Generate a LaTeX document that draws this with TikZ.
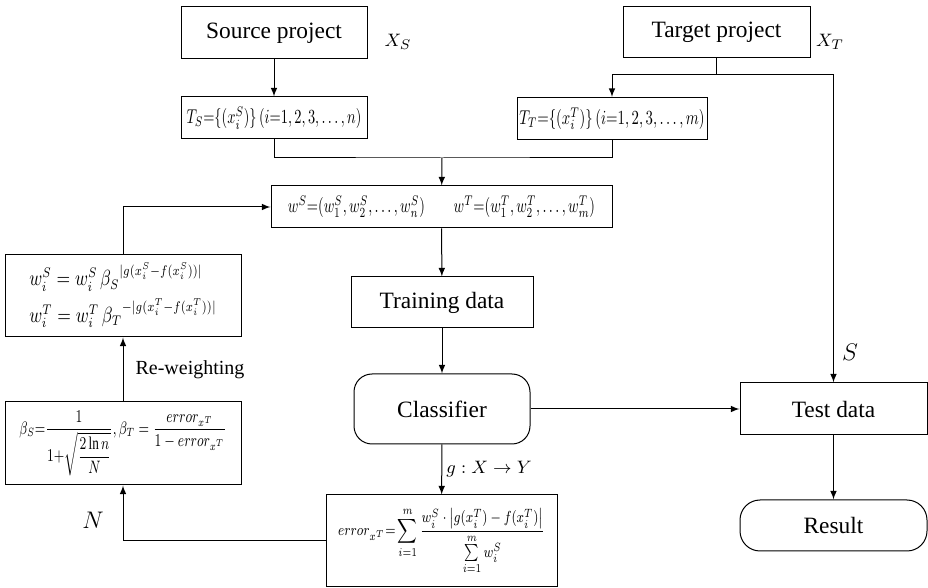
\documentclass[tikz,border=0pt]{standalone}
\usepackage{amsmath}
\usepackage{amssymb}
\usepackage{graphicx}
\usepackage{fontspec}
\setmainfont{Liberation Serif}
\usetikzlibrary{calc}

\newcommand{\squash}[2]{\scalebox{#1}[1]{#2}}

\begin{document}
\begin{tikzpicture}
  [x=0.5pt, y=-0.5pt, >=latex, line width=0.5pt,
   box/.style={draw, inner sep=0pt, font=\fontsize{11.7}{14}\selectfont},
   mathbox/.style={draw, inner sep=0pt, font=\fontsize{10}{12}\selectfont},
   roundbox/.style={box, rounded corners=9pt},
   note/.style={font=\fontsize{9.5}{11}\selectfont}]
  \useasboundingbox (0,0) rectangle (928,588);
  % projects
  \node[box, minimum width=93pt, minimum height=26pt] (src) at (274,33) {Source project};
  \node[box, minimum width=93.5pt, minimum height=25.5pt] (tgt) at (716.5,32.5) {Target project};
  \node[note] (xs) at (398,42) {$X_S$};
  \node[note] (xt) at (830,42) {$X_T$};
  % instance sets
  \node[mathbox, minimum width=93pt, minimum height=21pt] (ts) at (274,118)
    {\squash{0.72}{$T_S{=}\{(x_i^S)\}\,(i{=}1,2,3,\dots,n)$}};
  \node[mathbox, minimum width=95pt, minimum height=21pt] (tt) at (612,118.5)
    {\squash{0.74}{$T_T{=}\{(x_i^T)\}\,(i{=}1,2,3,\dots,m)$}};
  \coordinate (tj) at (716.5,75);
  \coordinate (mj) at (442,158);
  % weights
  \node[mathbox, minimum width=170.5pt, minimum height=21pt] (w) at (441.5,207)
    {\squash{0.72}{$w^S{=}(w_1^S,w_2^S,\dots,w_n^S)\qquad w^T{=}(w_1^T,w_2^T,\dots,w_m^T)$}};
  \node[box, minimum width=91pt, minimum height=25.5pt] (train) at (442,302.5) {Training data};
  \node[roundbox, minimum width=88pt, minimum height=35pt] (clf) at (442,409) {Classifier};
  \node[box, minimum width=93.5pt, minimum height=26pt] (test) at (833.5,409) {Test data};
  \node[roundbox, rounded corners=10pt, minimum width=93.5pt, minimum height=25.5pt] (res) at (833.5,525.5) {Result};
  % error and update
  \node[mathbox, font=\fontsize{8.5}{10}\selectfont, minimum width=115.5pt, minimum height=46pt] (err) at (441.5,541)
    {\squash{0.78}{$\displaystyle error_{x^T}{=}\sum_{i=1}^{m}\frac{w_i^S\cdot\left|g(x_i^T)-f(x_i^T)\right|}{\sum\limits_{i=1}^{m}w_i^S}$}};
  \node[mathbox, font=\fontsize{9}{11}\selectfont, minimum width=118pt, minimum height=41.5pt] (beta) at (123,443.5)
    {\squash{0.73}{$\displaystyle \beta_S{=}\frac{1}{1{+}\sqrt{\dfrac{2\ln n}{N}}},\beta_T=\frac{error_{x^T}}{1-error_{x^T}}$}};
  \node[mathbox, font=\fontsize{10.5}{12}\selectfont, minimum width=118pt, minimum height=41pt] (rw) at (123,296)
    {\squash{0.8}{$\begin{array}{l}
      w_i^S = w_i^S\,{\beta_S}^{|g(x_i^S-f(x_i^S))|}\\[3pt]
      w_i^T = w_i^T\,{\beta_T}^{-|g(x_i^T-f(x_i^T))|}
    \end{array}$}};
  % connectors
  \draw[->] (src) -- (ts);
  \draw (tgt) -- (tj);
  \draw[->] (tj) -| (tt);
  \draw[->] (tj) -| (test);
  \draw (ts) |- (mj) -| (tt);
  \draw[->] (mj) -- (w);
  \draw[->] (w) -- (train);
  \draw[->] (train) -- (clf);
  \draw[->] (clf) -- (test);
  \draw[->] (test) -- (res);
  \draw[->] (clf) -- (err);
  \draw[->] (err) -| (beta);
  \draw[->] (beta) -- (rw);
  \draw[->] (rw) |- (w);
  % labels
  \node[font=\fontsize{12}{14}\selectfont] (s) at (850,352) {$S$};
  \node[font=\fontsize{12}{14}\selectfont] (n) at (93,520) {$N$};
  \node[font=\fontsize{10}{12}\selectfont] (rwlab) at (190,370) {Re-weighting};
  \node[font=\fontsize{9}{11}\selectfont] (glab) at (489,469) {$g:X\rightarrow Y$};
\end{tikzpicture}
\end{document}
